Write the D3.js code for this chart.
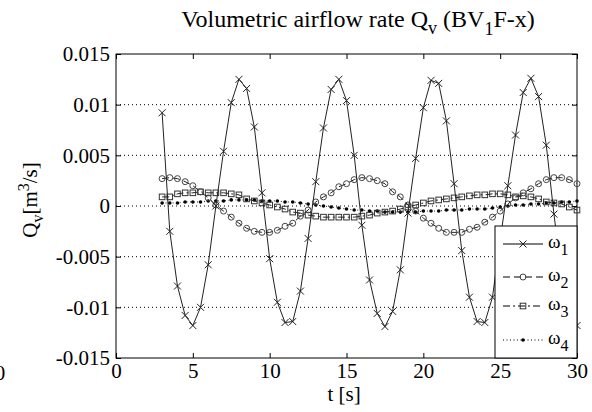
<!DOCTYPE html>
<html><head><meta charset="utf-8">
<script src="https://cdnjs.cloudflare.com/ajax/libs/d3/7.8.5/d3.min.js"></script>
<style>body{margin:0;background:#fff}svg{display:block}text{font-family:"Liberation Serif","Times New Roman",serif;fill:#000}</style>
</head><body><svg id="c" width="592" height="412"></svg>
<script>
const t0 = 3, dt = 0.5;
const w1 = [0.0092,-0.0025,-0.0079,-0.0108,-0.0118,-0.0100,-0.0058,0.0000,0.0054,0.0102,0.0125,0.0116,0.0078,0.0013,-0.0052,-0.0095,-0.0115,-0.0114,-0.0084,-0.0032,0.0024,0.0077,0.0115,0.0125,0.0104,0.0050,-0.0019,-0.0073,-0.0106,-0.0119,-0.0104,-0.0063,-0.0007,0.0047,0.0097,0.0124,0.0121,0.0084,0.0022,-0.0044,-0.0090,-0.0114,-0.0115,-0.0090,-0.0034,0.0020,0.0070,0.0112,0.0126,0.0108,0.0060,-0.0008,-0.0068,-0.0105,-0.0118];
const w2 = [0.0027,0.0028,0.0027,0.0024,0.0020,0.0014,0.0008,0.0001,-0.0005,-0.0011,-0.0017,-0.0022,-0.0025,-0.0026,-0.0026,-0.0024,-0.0020,-0.0017,-0.0010,-0.0004,0.0004,0.0009,0.0013,0.0019,0.0022,0.0026,0.0028,0.0027,0.0025,0.0022,0.0014,0.0009,0.0001,-0.0005,-0.0012,-0.0017,-0.0022,-0.0026,-0.0026,-0.0026,-0.0023,-0.0021,-0.0016,-0.0011,-0.0005,0.0002,0.0008,0.0013,0.0017,0.0022,0.0026,0.0028,0.0028,0.0026,0.0022];
const w3 = [0.0009,0.0009,0.0012,0.0013,0.0013,0.0014,0.0013,0.0013,0.0013,0.0012,0.0011,0.0007,0.0005,0.0003,0.0001,-0.0001,-0.0003,-0.0006,-0.0007,-0.0009,-0.0010,-0.0011,-0.0011,-0.0011,-0.0011,-0.0011,-0.0010,-0.0009,-0.0007,-0.0006,-0.0005,-0.0003,-0.0001,0.0001,0.0003,0.0005,0.0006,0.0007,0.0008,0.0009,0.0010,0.0011,0.0011,0.0012,0.0012,0.0011,0.0009,0.0010,0.0009,0.0007,0.0004,0.0003,0.0002,-0.0001,-0.0004];
const w4 = [0.0003,0.0003,0.0003,0.0004,0.0004,0.0004,0.0005,0.0005,0.0005,0.0006,0.0006,0.0006,0.0006,0.0005,0.0005,0.0005,0.0004,0.0004,0.0003,0.0002,0.0001,0.0000,-0.0001,-0.0002,-0.0003,-0.0004,-0.0004,-0.0005,-0.0005,-0.0006,-0.0006,-0.0006,-0.0006,-0.0006,-0.0005,-0.0005,-0.0005,-0.0004,-0.0004,-0.0004,-0.0003,-0.0003,-0.0003,-0.0002,-0.0001,0.0000,0.0001,0.0001,0.0002,0.0002,0.0003,0.0003,0.0004,0.0004,0.0005];
const xTicks = [0,5,10,15,20,25,30];
const yTicks = [-0.015,-0.01,-0.005,0,0.005,0.01,0.015];
const yTickLabels = ["-0.015","-0.01","-0.005","0","0.005","0.01","0.015"];
const seriesNames = ["1","2","3","4"];

const svg = d3.select("#c");
const L=116,R=577,T=54,B=358;
const x = d3.scaleLinear().domain([0,30]).range([L,R]);
const y = d3.scaleLinear().domain([-0.015,0.015]).range([B,T]);
const fs = 21;
const serif = '"Liberation Serif","Times New Roman",serif';

// grid
svg.append("g").selectAll("line").data(yTicks.filter(v=>v>-0.015&&v<0.015)).join("line")
  .attr("x1",L).attr("x2",R).attr("y1",d=>y(d)).attr("y2",d=>y(d))
  .attr("stroke","#000").attr("stroke-width",1).attr("stroke-dasharray","1,3");

// axes
const gx = svg.append("g").attr("transform",`translate(0,${B})`)
  .call(d3.axisBottom(x).tickValues(xTicks).tickFormat(d3.format("d")).tickSizeInner(-5).tickSizeOuter(0).tickPadding(5));
const gxt = svg.append("g").attr("transform",`translate(0,${T})`)
  .call(d3.axisTop(x).tickValues(xTicks).tickFormat("").tickSizeInner(-5).tickSizeOuter(0));
const gy = svg.append("g").attr("transform",`translate(${L},0)`)
  .call(d3.axisLeft(y).tickValues(yTicks).tickFormat((d,i)=>yTickLabels[i]).tickSizeInner(-5).tickSizeOuter(0).tickPadding(6));
const gyr = svg.append("g").attr("transform",`translate(${R},0)`)
  .call(d3.axisRight(y).tickValues(yTicks).tickFormat("").tickSizeInner(-5).tickSizeOuter(0));
[gx,gxt,gy,gyr].forEach(g=>{g.attr("font-family",serif);g.select(".domain").remove();g.selectAll("line").attr("stroke","#000");});
gx.selectAll("text").attr("font-size",fs).style("font-family",serif);
gy.selectAll("text").attr("font-size",fs).style("font-family",serif);
svg.append("rect").attr("x",L).attr("y",T).attr("width",R-L).attr("height",B-T).attr("fill","none").attr("stroke","#000");

const styles = [
  {data:w1, dash:null, marker:"x"},
  {data:w2, dash:"7,4", marker:"o"},
  {data:w3, dash:"7,3,2,3", marker:"s"},
  {data:w4, dash:"1,2.5", marker:"d"}
];
function drawMarker(g, type, cx, cy){
  if(type==="x"){
    g.append("path").attr("d",`M${cx-3.5},${cy-3.5}L${cx+3.5},${cy+3.5}M${cx-3.5},${cy+3.5}L${cx+3.5},${cy-3.5}`).attr("stroke","#222").attr("stroke-width",1).attr("fill","none");
  } else if(type==="o"){
    g.append("circle").attr("cx",cx).attr("cy",cy).attr("r",3).attr("fill","none").attr("stroke","#444").attr("stroke-width",1);
  } else if(type==="s"){
    g.append("rect").attr("x",cx-2.8).attr("y",cy-2.8).attr("width",5.6).attr("height",5.6).attr("fill","none").attr("stroke","#333").attr("stroke-width",1);
  } else {
    g.append("circle").attr("cx",cx).attr("cy",cy).attr("r",1.8).attr("fill","#000");
  }
}
const line = d3.line().x((d,i)=>x(t0+i*dt)).y(d=>y(d));
const plot = svg.append("g");
styles.slice().reverse().forEach(s=>{
  plot.append("path").datum(s.data).attr("d",line).attr("fill","none").attr("stroke","#222").attr("stroke-width",1)
    .attr("stroke-dasharray",s.dash);
  const mg = plot.append("g");
  s.data.forEach((v,i)=>drawMarker(mg,s.marker,x(t0+i*dt),y(v)));
});

// legend
const lg = svg.append("g");
lg.append("rect").attr("x",495).attr("y",226).attr("width",82).attr("height",132).attr("fill","#fff").attr("stroke","#000");
const ly = [244,277,306,340];
styles.forEach((s,i)=>{
  lg.append("line").attr("x1",503).attr("x2",543).attr("y1",ly[i]).attr("y2",ly[i]).attr("stroke","#000").attr("stroke-dasharray",s.dash);
  drawMarker(lg,s.marker,523,ly[i]);
  const tx = lg.append("text").attr("x",548).attr("y",ly[i]+4).attr("font-size",19);
  tx.append("tspan").text("ω");
  tx.append("tspan").attr("dy",7).attr("font-size",16).text(seriesNames[i]);
});

// title
const title = svg.append("text").attr("x",358).attr("y",27).attr("text-anchor","middle").attr("font-size",24);
title.append("tspan").text("Volumetric airflow rate Q");
title.append("tspan").attr("dy",7).attr("font-size",18).text("v");
title.append("tspan").attr("dy",-7).text(" (BV");
title.append("tspan").attr("dy",8).attr("font-size",18).text("1");
title.append("tspan").attr("dy",-8).text("F-x)");

// axis labels
svg.append("text").attr("x",344).attr("y",401).attr("text-anchor","middle").attr("font-size",21).text("t [s]");
const yl = svg.append("text").attr("transform","translate(37,200) rotate(-90)").attr("text-anchor","middle").attr("font-size",fs);
yl.append("tspan").text("Q");
yl.append("tspan").attr("dy",6).attr("font-size",16).text("v");
yl.append("tspan").attr("dy",-6).text("[m");
yl.append("tspan").attr("dy",-8).attr("font-size",16).text("3");
yl.append("tspan").attr("dy",8).text("/s]");
// stray label at left edge
svg.append("text").attr("x",0).attr("y",380).attr("text-anchor","middle").attr("font-size",fs).text("0");
</script></body></html>
